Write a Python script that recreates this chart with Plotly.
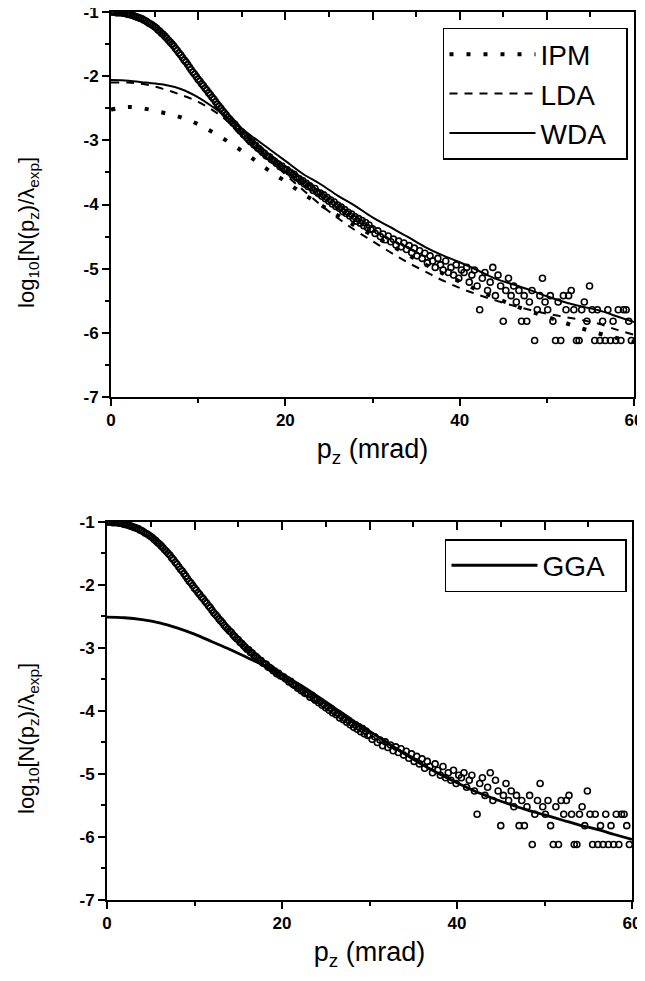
import plotly.graph_objects as go

# ---------------- data ----------------
# experimental points (read from the picture), dense part 0-30 mrad
exp_pz_a = [
    0.0, 0.2, 0.4, 0.6, 0.8, 1.0, 1.2, 1.4, 1.6, 1.8,
    2.0, 2.2, 2.4, 2.6, 2.8, 3.0, 3.2, 3.4, 3.6, 3.8,
    4.0, 4.2, 4.4, 4.6, 4.8, 5.0, 5.2, 5.4, 5.6, 5.8,
    6.0, 6.2, 6.4, 6.6, 6.8, 7.0, 7.2, 7.4, 7.6, 7.8,
    8.0, 8.2, 8.4, 8.6, 8.8, 9.0, 9.2, 9.4, 9.6, 9.8,
    10.0, 10.2, 10.4, 10.6, 10.8, 11.0, 11.2, 11.4, 11.6, 11.8,
    12.0, 12.2, 12.4, 12.6, 12.8, 13.0, 13.2, 13.4, 13.6, 13.8,
    14.0, 14.2, 14.4, 14.6, 14.8, 15.0, 15.2, 15.4, 15.6, 15.8,
    16.0, 16.2, 16.4, 16.6, 16.8, 17.0, 17.2, 17.4, 17.6, 17.8,
    18.0, 18.2, 18.4, 18.6, 18.8, 19.0, 19.2, 19.4, 19.6, 19.8,
    20.0, 20.2, 20.4, 20.6, 20.8, 21.0, 21.2, 21.4, 21.6, 21.8,
    22.0, 22.2, 22.4, 22.6, 22.8, 23.0, 23.2, 23.4, 23.6, 23.8,
    24.0, 24.2, 24.4, 24.6, 24.8, 25.0, 25.2, 25.4, 25.6, 25.8,
    26.0, 26.2, 26.4, 26.6, 26.8, 27.0, 27.2, 27.4, 27.6, 27.8,
    28.0, 28.2, 28.4, 28.6, 28.8, 29.0, 29.2, 29.4, 29.6, 29.8,
]
exp_val_a = [
    -1.00, -1.00, -1.00, -1.01, -1.01, -1.01, -1.01, -1.02, -1.02, -1.03,
    -1.04, -1.04, -1.05, -1.06, -1.07, -1.08, -1.09, -1.10, -1.11, -1.13,
    -1.14, -1.16, -1.18, -1.19, -1.21, -1.23, -1.25, -1.28, -1.30, -1.33,
    -1.35, -1.38, -1.41, -1.44, -1.47, -1.50, -1.53, -1.57, -1.60, -1.64,
    -1.67, -1.71, -1.75, -1.78, -1.82, -1.86, -1.90, -1.94, -1.97, -2.01,
    -2.05, -2.08, -2.12, -2.15, -2.19, -2.22, -2.26, -2.29, -2.33, -2.36,
    -2.40, -2.44, -2.47, -2.50, -2.54, -2.57, -2.60, -2.64, -2.67, -2.70,
    -2.73, -2.75, -2.79, -2.82, -2.85, -2.87, -2.91, -2.93, -2.96, -2.99,
    -3.02, -3.03, -3.07, -3.08, -3.12, -3.13, -3.16, -3.19, -3.20, -3.24,
    -3.25, -3.26, -3.30, -3.31, -3.33, -3.36, -3.37, -3.41, -3.40, -3.44,
    -3.45, -3.46, -3.49, -3.50, -3.54, -3.53, -3.57, -3.59, -3.60, -3.64,
    -3.63, -3.68, -3.67, -3.72, -3.71, -3.74, -3.78, -3.75, -3.80, -3.83,
    -3.82, -3.87, -3.85, -3.91, -3.89, -3.95, -3.93, -3.99, -3.96, -4.03,
    -4.01, -4.06, -4.04, -4.11, -4.08, -4.14, -4.12, -4.18, -4.15, -4.22,
    -4.19, -4.26, -4.22, -4.29, -4.25, -4.33, -4.28, -4.36, -4.32, -4.39,
]
# experimental points, scattered tail 30-60 mrad
exp_pz_b = [
    30.0, 30.3, 30.6, 30.9, 31.2, 31.5, 31.8, 32.1, 32.4, 32.7,
    33.0, 33.3, 33.6, 33.9, 34.2, 34.5, 34.8, 35.1, 35.4, 35.7,
    36.0, 36.3, 36.6, 36.9, 37.2, 37.5, 37.8, 38.1, 38.4, 38.7,
    39.0, 39.3, 39.6, 39.9, 40.2, 40.5, 40.8, 41.1, 41.4, 41.7,
    42.0, 42.3, 42.6, 42.9, 43.2, 43.5, 43.8, 44.1, 44.4, 44.7,
    45.0, 45.3, 45.6, 45.9, 46.2, 46.5, 46.8, 47.1, 47.4, 47.7,
    48.0, 48.3, 48.6, 48.9, 49.2, 49.5, 49.8, 50.1, 50.4, 50.7,
    51.0, 51.3, 51.6, 51.9, 52.2, 52.5, 52.8, 53.1, 53.4, 53.7,
    54.0, 54.3, 54.6, 54.9, 55.2, 55.5, 55.8, 56.1, 56.4, 56.7,
    57.0, 57.3, 57.6, 57.9, 58.2, 58.5, 58.8, 59.1, 59.4, 59.7,
]
exp_val_b = [
    -4.38, -4.45, -4.41, -4.50, -4.46, -4.55, -4.49, -4.58, -4.54, -4.63,
    -4.57, -4.66, -4.60, -4.70, -4.64, -4.75, -4.68, -4.80, -4.72, -4.84,
    -4.76, -4.91, -4.80, -4.88, -4.98, -4.84, -4.94, -5.02, -4.88, -5.06,
    -4.98, -5.10, -4.94, -5.15, -5.02, -5.06, -4.98, -5.21, -5.10, -5.02,
    -5.27, -5.64, -5.15, -5.06, -5.34, -5.21, -4.98, -5.42, -5.10, -5.27,
    -5.82, -5.34, -5.15, -5.42, -5.27, -5.52, -5.34, -5.82, -5.42, -5.82,
    -5.52, -5.34, -6.12, -5.64, -5.42, -5.15, -5.52, -5.64, -5.42, -5.82,
    -6.12, -5.52, -6.12, -5.42, -5.64, -5.42, -5.34, -5.64, -6.12, -6.12,
    -5.64, -5.52, -5.82, -5.27, -5.64, -6.12, -5.64, -6.12, -5.82, -6.12,
    -5.64, -6.12, -5.82, -6.12, -5.64, -6.12, -5.64, -5.64, -5.82, -6.12,
]
exp_pz = exp_pz_a + exp_pz_b
exp_val = exp_val_a + exp_val_b

theory_pz = [0, 2, 4, 6, 8, 10, 12, 14, 16, 18, 20, 22, 24, 26, 28, 30,
             32, 34, 36, 38, 40, 42, 44, 46, 48, 50, 52, 54, 56, 58, 60]
ipm = [-2.52, -2.48, -2.51, -2.57, -2.64, -2.75, -2.90, -3.07, -3.26, -3.46,
       -3.64, -3.83, -4.00, -4.17, -4.33, -4.48, -4.63, -4.78, -4.93, -5.07,
       -5.20, -5.33, -5.45, -5.56, -5.66, -5.75, -5.84, -5.93, -6.01, -6.08, -6.14]
lda = [-2.10, -2.10, -2.13, -2.20, -2.29, -2.40, -2.56, -2.77, -3.00, -3.27,
       -3.53, -3.77, -4.00, -4.21, -4.40, -4.57, -4.74, -4.90, -5.04, -5.18,
       -5.30, -5.40, -5.49, -5.57, -5.64, -5.70, -5.75, -5.80, -5.86, -5.95, -6.03]
wda = [-2.06, -2.07, -2.10, -2.13, -2.20, -2.33, -2.51, -2.71, -2.92, -3.12,
       -3.32, -3.52, -3.68, -3.86, -4.02, -4.20, -4.35, -4.50, -4.66, -4.79,
       -4.90, -5.02, -5.15, -5.24, -5.33, -5.43, -5.52, -5.59, -5.65, -5.74, -5.83]
gga = [-2.51, -2.52, -2.55, -2.60, -2.68, -2.78, -2.90, -3.02, -3.15, -3.28,
       -3.42, -3.58, -3.76, -3.95, -4.14, -4.32, -4.50, -4.68, -4.85, -5.00,
       -5.14, -5.27, -5.38, -5.48, -5.57, -5.65, -5.73, -5.81, -5.88, -5.96, -6.04]

x_tick_vals = [0, 20, 40, 60]
x_tick_text = ["0", "20", "40", "60"]
y_tick_vals = [-1, -2, -3, -4, -5, -6, -7]
y_tick_text = ["-1", "-2", "-3", "-4", "-5", "-6", "-7"]

# ---------------- figure ----------------
FONT = "Liberation Sans, Arial, sans-serif"
fig = go.Figure()

circ = dict(symbol="circle-open", size=6, color="black", line=dict(width=1.6, color="black"))
NB = "\u00a0\u00a0"

# top panel
fig.add_trace(go.Scatter(x=exp_pz, y=exp_val, mode="markers", marker=circ,
                         showlegend=False, xaxis="x", yaxis="y"))
fig.add_trace(go.Scatter(x=theory_pz, y=ipm, mode="lines", name="IPM" + NB,
                         line=dict(color="black", width=4, dash="4px,13px", shape="spline"),
                         xaxis="x", yaxis="y", legend="legend"))
fig.add_trace(go.Scatter(x=theory_pz, y=lda, mode="lines", name="LDA" + NB,
                         line=dict(color="black", width=2, dash="8px,7px", shape="spline"),
                         xaxis="x", yaxis="y", legend="legend"))
fig.add_trace(go.Scatter(x=theory_pz, y=wda, mode="lines", name="WDA" + NB,
                         line=dict(color="black", width=2, shape="spline"),
                         xaxis="x", yaxis="y", legend="legend"))

# bottom panel
fig.add_trace(go.Scatter(x=exp_pz, y=exp_val, mode="markers", marker=circ,
                         showlegend=False, xaxis="x2", yaxis="y2"))
fig.add_trace(go.Scatter(x=theory_pz, y=gga, mode="lines", name="GGA" + NB,
                         line=dict(color="black", width=2.8, shape="spline"),
                         xaxis="x2", yaxis="y2", legend="legend2"))

# empty traces so the inward top tick axes are drawn
fig.add_trace(go.Scatter(x=[], y=[], xaxis="x3", yaxis="y", showlegend=False))
fig.add_trace(go.Scatter(x=[], y=[], xaxis="x4", yaxis="y2", showlegend=False))

tickfont = dict(family=FONT, size=17, color="black")
ytitlefont = dict(family=FONT, size=22, color="black")
xtitlefont = dict(family=FONT, size=27, color="black")
ytitle = "log<sub>10</sub>[N(p<sub>z</sub>)/λ<sub>exp</sub>]"
xtitle = "p<sub>z</sub> (mrad)"

def bold(labels):
    return ["<b>" + t + "</b>" for t in labels]

def xax(domain, anchor):
    return dict(domain=domain, anchor=anchor, range=[0, 60], tickmode="array",
                tickvals=x_tick_vals, ticktext=bold(x_tick_text), ticks="outside",
                ticklen=7, tickwidth=2, tickcolor="black", ticklabeloverflow="allow",
                minor=dict(tickmode="linear", tick0=0, dtick=10, ticks="outside",
                           ticklen=4, tickwidth=1.5, tickcolor="black"),
                showline=True, linewidth=2, linecolor="black", mirror=True,
                showgrid=False, zeroline=False, tickfont=tickfont, automargin=False,
                title=dict(text=xtitle, font=xtitlefont, standoff=10))

def yax(domain, anchor):
    return dict(domain=domain, anchor=anchor, range=[-7, -1], tickmode="array",
                tickvals=y_tick_vals, ticktext=bold(y_tick_text), ticks="outside",
                ticklen=7, tickwidth=2, tickcolor="black", ticklabeloverflow="allow",
                minor=dict(tickmode="linear", tick0=-7, dtick=0.5, ticks="outside",
                           ticklen=4, tickwidth=1.5, tickcolor="black"),
                showline=True, linewidth=2, linecolor="black", mirror=True,
                showgrid=False, zeroline=False, tickfont=tickfont, automargin=False)

def topax(over, anchor):
    return dict(overlaying=over, anchor=anchor, side="top", range=[0, 60],
                tickmode="linear", tick0=0, dtick=10, ticks="inside", ticklen=8,
                tickwidth=2, tickcolor="black",
                minor=dict(tickmode="linear", tick0=0, dtick=5, ticks="inside",
                           ticklen=5, tickwidth=1.5, tickcolor="black"),
                showticklabels=False, showline=False, showgrid=False,
                zeroline=False, automargin=False)

# the page body adds an 8 px margin, so the figure is 8 px smaller each way
fig.update_layout(
    template="none",
    width=637, height=973,
    margin=dict(l=99, r=11, t=4, b=81),
    paper_bgcolor="white", plot_bgcolor="white",
    font=dict(family=FONT, color="black"),
    xaxis=xax([0.0076, 1.0], "y"),
    yaxis=yax([0.5664, 1.0], "x"),
    xaxis2=xax([0.0, 0.9962], "y2"),
    yaxis2=yax([0.0, 0.4257], "x2"),
    xaxis3=topax("x", "y"),
    xaxis4=topax("x2", "y2"),
    legend=dict(x=0.9886, xanchor="right", y=0.982, yanchor="top",
                bordercolor="black", borderwidth=1.5, bgcolor="white",
                font=dict(family=FONT, size=28, color="black"), itemwidth=86,
                tracegroupgap=0),
    legend2=dict(x=0.9867, xanchor="right", y=0.4065, yanchor="top",
                 bordercolor="black", borderwidth=1.5, bgcolor="white",
                 font=dict(family=FONT, size=28, color="black"), itemwidth=86),
    annotations=[
        dict(text=ytitle, textangle=-90, xref="paper", yref="paper",
             x=-0.15, y=0.7523, xanchor="center", yanchor="middle",
             showarrow=False, font=ytitlefont),
        dict(text=ytitle, textangle=-90, xref="paper", yref="paper",
             x=-0.15, y=0.1824, xanchor="center", yanchor="middle",
             showarrow=False, font=ytitlefont),
    ],
    showlegend=True,
)

fig.write_html("out.html")
